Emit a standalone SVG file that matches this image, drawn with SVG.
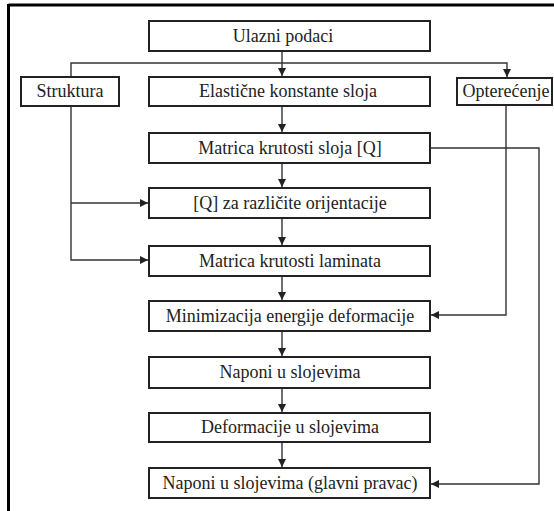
<svg xmlns="http://www.w3.org/2000/svg" width="554" height="511" viewBox="0 0 554 511">
<style>
.box{fill:#fff;stroke:#222;stroke-width:2}
.t{font-size:18px;fill:#222;text-anchor:middle}
.c{fill:none;stroke:#333;stroke-width:1.4}
</style>
<defs>
<marker id="ah" viewBox="0 0 10 10" refX="10" refY="5" markerWidth="8" markerHeight="8" markerUnits="userSpaceOnUse" orient="auto">
<path d="M0,0 L10,5 L0,10 z" fill="#222"/>
</marker>
</defs>
<rect width="554" height="511" fill="#fff"/>
<g id="frame">
<line x1="8.5" y1="5" x2="554" y2="5" stroke="#000" stroke-width="3"/>
<line x1="8.5" y1="4" x2="8.5" y2="511" stroke="#000" stroke-width="3"/>
</g>
<g id="connectors">
<path class="c" d="M282,52 V76" marker-end="url(#ah)"/>
<path class="c" d="M71,76 V63 H507 V77" marker-end="url(#ah)"/>
<path class="c" d="M282,107 V132" marker-end="url(#ah)"/>
<path class="c" d="M282,164 V187" marker-end="url(#ah)"/>
<path class="c" d="M282,219 V245" marker-end="url(#ah)"/>
<path class="c" d="M282,277 V300" marker-end="url(#ah)"/>
<path class="c" d="M282,332 V356" marker-end="url(#ah)"/>
<path class="c" d="M282,389 V412" marker-end="url(#ah)"/>
<path class="c" d="M282,443 V467" marker-end="url(#ah)"/>
<path class="c" d="M71,107 V260 H148" marker-end="url(#ah)"/>
<path class="c" d="M71,203 H148" marker-end="url(#ah)"/>
<path class="c" d="M506,105 V315 H431" marker-end="url(#ah)"/>
<path class="c" d="M431,148 H539 V484 H431" marker-end="url(#ah)"/>
</g>
<g style="font-family:'Liberation Serif','Times New Roman',serif">
<g id="n1"><rect class="box" x="149" y="21" width="281" height="30"/><text class="t" x="283" y="42">Ulazni podaci</text></g>
<g id="n2"><rect class="box" x="21" y="77" width="98" height="29"/><text class="t" x="70" y="97">Struktura</text></g>
<g id="n3"><rect class="box" x="149" y="77" width="281" height="29"/><text class="t" x="288" y="97">Elastične konstante sloja</text></g>
<g id="n4"><rect class="box" x="457" y="78" width="95" height="27"/><text class="t" x="506" y="97">Opterećenje</text></g>
<g id="n5"><rect class="box" x="149" y="133" width="281" height="30"/><text class="t" x="290" y="154">Matrica krutosti sloja [Q]</text></g>
<g id="n6"><rect class="box" x="149" y="188" width="281" height="30"/><text class="t" x="290" y="209">[Q] za različite orijentacije</text></g>
<g id="n7"><rect class="box" x="149" y="246" width="281" height="30"/><text class="t" x="290" y="267">Matrica krutosti laminata</text></g>
<g id="n8"><rect class="box" x="149" y="301" width="281" height="30"/><text class="t" x="290" y="322">Minimizacija energije deformacije</text></g>
<g id="n9"><rect class="box" x="149" y="357" width="281" height="31"/><text class="t" x="290" y="378">Naponi u slojevima</text></g>
<g id="n10"><rect class="box" x="149" y="413" width="281" height="29"/><text class="t" x="290" y="433">Deformacije u slojevima</text></g>
<g id="n11"><rect class="box" x="149" y="468" width="281" height="30"/><text class="t" x="290" y="489">Naponi u slojevima (glavni pravac)</text></g>
</g>
</svg>
